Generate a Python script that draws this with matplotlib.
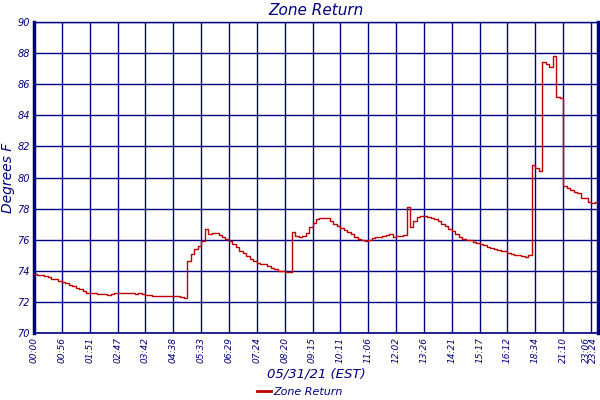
import matplotlib
matplotlib.use("Agg")
import matplotlib.pyplot as plt
import matplotlib.transforms as mtransforms
from matplotlib.lines import Line2D

tick_labels = ["00:00", "00:56", "01:51", "02:47", "03:42", "04:38", "05:33",
               "06:29", "07:24", "08:20", "09:15", "10:11", "11:06", "12:02",
               "13:26", "14:21", "15:17", "16:12", "18:34", "21:10", "23:06",
               "23:24"]
tick_index = [0, 8, 16, 24, 32, 40, 48, 56, 64, 72, 80, 88, 96, 104, 112,
              120, 128, 136, 144, 152, 160, 162]

zone_return = [
    73.8, 73.7, 73.7, 73.65, 73.6, 73.5, 73.45, 73.35, 73.3, 73.2,
    73.1, 73.0, 72.9, 72.8, 72.7, 72.6, 72.6, 72.55, 72.5, 72.5,
    72.5, 72.45, 72.5, 72.6, 72.6, 72.6, 72.6, 72.55, 72.55, 72.5,
    72.55, 72.5, 72.45, 72.45, 72.4, 72.4, 72.4, 72.4, 72.35, 72.35,
    72.35, 72.35, 72.3, 72.25, 74.6, 75.1, 75.4, 75.6, 75.9, 76.7,
    76.35, 76.4, 76.4, 76.3, 76.2, 76.05, 75.9, 75.7, 75.5, 75.3,
    75.15, 74.95, 74.75, 74.6, 74.5, 74.45, 74.45, 74.3, 74.2, 74.1,
    74.0, 74.0, 73.95, 73.95, 76.5, 76.25, 76.2, 76.25, 76.4, 76.8,
    77.1, 77.3, 77.4, 77.4, 77.4, 77.2, 77.0, 76.9, 76.75, 76.6,
    76.5, 76.35, 76.2, 76.05, 75.95, 75.9, 75.95, 76.1, 76.2, 76.2,
    76.25, 76.3, 76.35, 76.2, 76.25, 76.25, 76.3, 78.1, 76.8, 77.2,
    77.45, 77.55, 77.55, 77.45, 77.4, 77.3, 77.2, 77.0, 76.9, 76.7,
    76.55, 76.35, 76.2, 76.05, 76.0, 75.95, 75.85, 75.8, 75.7, 75.65,
    75.55, 75.45, 75.4, 75.35, 75.3, 75.25, 75.15, 75.1, 75.0, 75.0,
    74.95, 74.9, 75.0, 80.8, 80.6, 80.4, 87.4, 87.3, 87.1, 87.8,
    85.2, 85.1, 79.45, 79.35, 79.2, 79.05, 79.0, 78.7, 78.65, 78.45,
    78.35, 78.4, 78.2,
]

NAVY = "#000080"
RED = "#C00000"

fig = plt.figure(figsize=(6, 4), dpi=100)
ax = fig.add_axes([34/600, 1 - 333/400, (598-34)/600, (333-22)/400])

x = list(range(len(zone_return)))
ax.plot(x, zone_return, color=RED, lw=1.0, drawstyle="steps-post", zorder=3)

ax.set_xlim(0, len(zone_return) - 1)
ax.set_ylim(70, 90)
ax.set_yticks(range(70, 91, 2))
ax.set_xticks(tick_index)
ax.set_xticklabels(tick_labels, rotation=90, fontsize=6.5, style="italic",
                   color=NAVY)
ax.tick_params(axis="y", labelsize=7, labelcolor=NAVY, length=0, pad=3)
for lab in ax.get_yticklabels():
    lab.set_style("italic")
ax.tick_params(axis="x", length=0, pad=3)

# the last two labels crowd together at the right edge: keep them readable
xt = ax.get_xticklabels()
xt[-1].set_horizontalalignment("right")
shift = mtransforms.ScaledTranslation(-5 / 100, 0, fig.dpi_scale_trans)
xt[-2].set_transform(xt[-2].get_transform() + shift)

ax.grid(True, color=NAVY, lw=1.0)
ax.set_axisbelow(True)
for side, sp in ax.spines.items():
    sp.set_color(NAVY)
ax.spines["left"].set_linewidth(2.5)
ax.spines["right"].set_linewidth(2.5)
ax.spines["bottom"].set_linewidth(1.2)
ax.spines["top"].set_linewidth(1.0)

ax.set_title("Zone Return", fontsize=11, style="italic", color=NAVY, pad=5)
ax.set_ylabel("Degrees F", fontsize=10, style="italic", color=NAVY, labelpad=2)
ax.set_xlabel("05/31/21 (EST)", fontsize=9.5, style="italic", color=NAVY,
              labelpad=3)

handle = Line2D([], [], color=RED, lw=2)
fig.legend([handle], ["Zone Return"], loc="lower center",
           bbox_to_anchor=(0.5, -0.018), frameon=False,
           handlelength=1.3, handletextpad=0.2,
           prop={"style": "italic", "size": 8}, labelcolor=NAVY)

fig.savefig("out.png", dpi=100)
